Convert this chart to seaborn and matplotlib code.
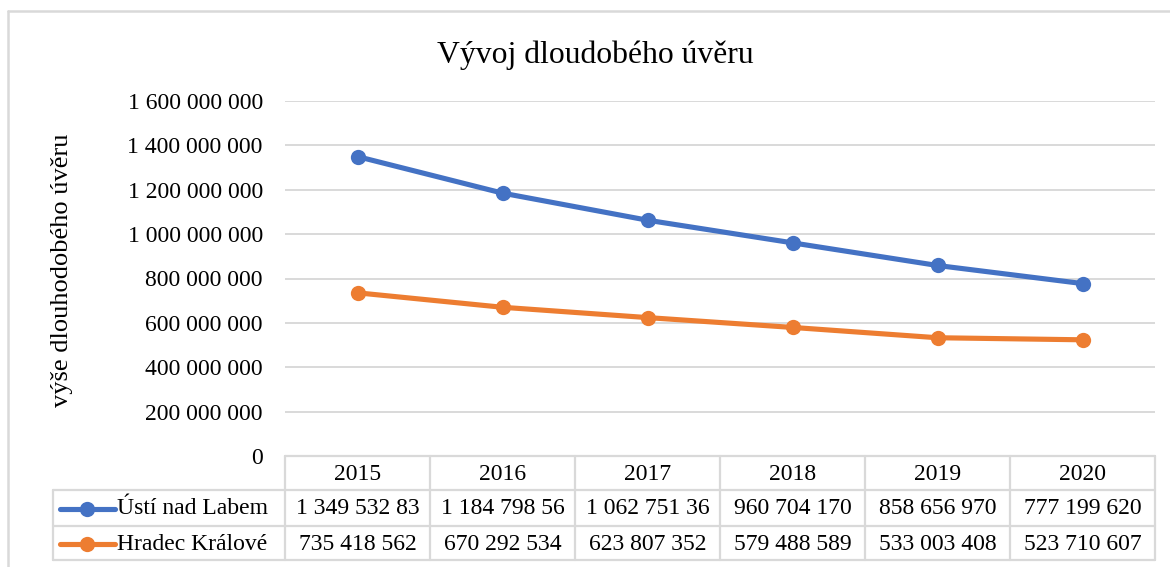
import numpy as np
import pandas as pd
import matplotlib
matplotlib.use("Agg")
import matplotlib.pyplot as plt
import matplotlib.transforms as mtransforms
from matplotlib.lines import Line2D
import seaborn as sns

years = [2015, 2016, 2017, 2018, 2019, 2020]
usti = [1349532830, 1184798560, 1062751360, 960704170, 858656970, 777199620]
hradec = [735418562, 670292534, 623807352, 579488589, 533003408, 523710607]
series_names = ["Ústí nad Labem", "Hradec Králové"]
colors = ["#4472C4", "#ED7D31"]
yticks = [0, 200000000, 400000000, 600000000, 800000000,
          1000000000, 1200000000, 1400000000, 1600000000]

title = "Vývoj dloudobého úvěru"
ylabel = "výše dlouhodobého úvěru"

df = pd.DataFrame({
    "rok": years * 2,
    "hodnota": usti + hradec,
    "mesto": [series_names[0]] * len(years) + [series_names[1]] * len(years),
})

sns.set_theme(style="white")
plt.rcParams["font.family"] = ["Liberation Serif", "DejaVu Serif"]
plt.rcParams["text.color"] = "black"
plt.rcParams["ytick.color"] = "black"

W, H = 1170, 567
fig = plt.figure(figsize=(W / 100, H / 100), dpi=100)
GRID = "#D9D9D9"

# plot area in pixel terms
x0, x1, ytop, ybot = 285, 1155, 101, 456
ax = fig.add_axes([x0 / W, 1 - ybot / H, (x1 - x0) / W, (ybot - ytop) / H])

sns.lineplot(data=df, x="rok", y="hodnota", hue="mesto", palette=colors,
             marker="o", markersize=11, markeredgewidth=0, linewidth=3.7,
             legend=False, ax=ax)

ax.set_xlim(years[0] - 0.5, years[-1] + 0.5)
ax.set_ylim(0, 1600000000)
ax.set_yticks(yticks)
ax.set_yticklabels([f"{v:,}".replace(",", " ") for v in yticks], fontsize=17)
ax.tick_params(axis="y", length=0, pad=16)
ax.set_xticks([])
ax.set_xlabel("")
ax.set_ylabel("")
ax.grid(axis="y", color=GRID, linewidth=1.4)
ax.set_axisbelow(True)
for s in ax.spines.values():
    s.set_visible(False)

fig.text(595 / W, 1 - 55 / H, title, ha="center", va="center", fontsize=22.8)
fig.text(62 / W, 1 - 270 / H, ylabel, ha="center", va="center",
         rotation=90, fontsize=19)

# chart border (top and left only visible)
fig.add_artist(Line2D([8 / W, 1], [1 - 11 / H, 1 - 11 / H], color=GRID, lw=1.8))
fig.add_artist(Line2D([8 / W, 8 / W], [0, 1 - 11 / H], color=GRID, lw=1.8))

# data table under the plot
tr = mtransforms.blended_transform_factory(ax.transData, fig.transFigure)
fy = lambda py: 1 - py / H
fx = lambda px: px / W
rows_y = [456, 490, 526, 560]
lw_t = 1.6

for py in rows_y[1:]:
    fig.add_artist(Line2D([fx(53), fx(x1)], [fy(py), fy(py)], color=GRID, lw=lw_t))
fig.add_artist(Line2D([fx(x0), fx(x1)], [fy(456), fy(456)], color=GRID, lw=lw_t))
fig.add_artist(Line2D([fx(53), fx(53)], [fy(490), fy(560)], color=GRID, lw=lw_t))
for b in np.arange(years[0] - 0.5, years[-1] + 1.0, 1.0):
    ax.add_artist(Line2D([b, b], [fy(456), fy(560)], color=GRID, lw=lw_t,
                         transform=tr, clip_on=False))

for yr in years:
    ax.text(yr, fy(474), str(yr), transform=tr, ha="center", va="center",
            fontsize=17, clip_on=False)

for i, (name, vals) in enumerate([(series_names[0], usti), (series_names[1], hradec)]):
    cy = (rows_y[i + 1] + rows_y[i + 2]) / 2 + 1
    fig.add_artist(Line2D([fx(60), fx(115)], [fy(cy), fy(cy)], color=colors[i], lw=3.7,
                          solid_capstyle="round"))
    fig.add_artist(Line2D([fx(87)], [fy(cy)], color=colors[i], marker="o",
                          markersize=11, markeredgewidth=0))
    fig.text(fx(117), fy(cy), name, ha="left", va="center", fontsize=17)
    for yr, v in zip(years, vals):
        # Excel clips long values to the cell width
        lab = f"{v:,}".replace(",", " ")[:12]
        ax.text(yr, fy(cy), lab, transform=tr, ha="center", va="center",
                fontsize=17, clip_on=False)

fig.savefig("out.png", dpi=100)
